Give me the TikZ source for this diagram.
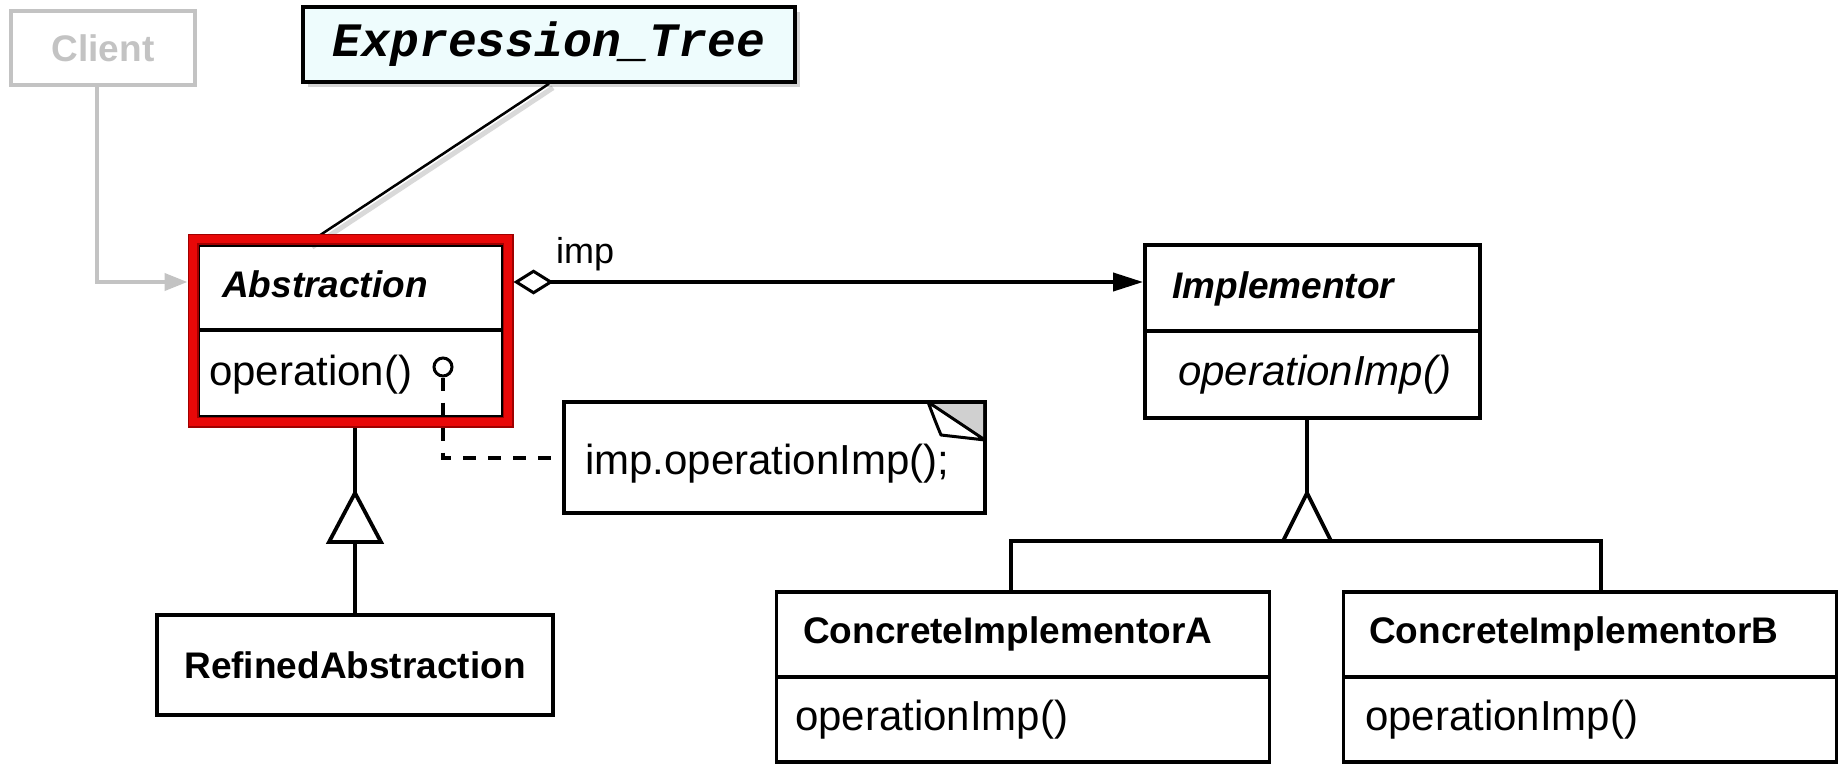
\documentclass[tikz,border=0pt]{standalone}
\usepackage{fontspec}
\setmainfont{Liberation Sans}
\newfontfamily\codefont{Liberation Mono}
\usetikzlibrary{arrows.meta,shadows}

\definecolor{clientgray}{RGB}{195,195,195}
\definecolor{notecyan}{RGB}{238,252,253}
\definecolor{framered}{RGB}{232,8,8}
\definecolor{framedark}{RGB}{160,0,0}
\definecolor{foldgray}{RGB}{208,208,208}

\tikzset{
  umlbox/.style={draw=black, line width=3.8pt, inner sep=0pt, fill=white},
  titletext/.style={font=\fontsize{37}{42}\selectfont\bfseries\itshape, inner sep=0pt, anchor=base west},
  classname/.style={font=\fontsize{37}{42}\selectfont\bfseries, inner sep=0pt},
  optext/.style={font=\fontsize{42}{48}\selectfont, inner sep=0pt, anchor=base west},
  conn/.style={draw=black, line width=3.8pt},
  gentri/.style={draw=black, line width=3.8pt, fill=white, line join=miter},
}

\begin{document}
\begin{tikzpicture}[x=1pt,y=-1pt]
\useasboundingbox (0,0) rectangle (1843,765);

% ---------- Client ----------
\node[draw=clientgray, line width=4pt, minimum width=184pt, minimum height=74pt,
      inner sep=0pt, text=clientgray, classname] (client) at (103,48) {Client};

% ---------- Expression_Tree label ----------
\node[draw=black, line width=3.5pt, fill=notecyan, minimum width=492pt, minimum height=75pt,
      inner sep=0pt, drop shadow={opacity=0.35, shadow xshift=5pt, shadow yshift=-5pt},
      font=\codefont\bfseries\itshape\fontsize{48}{52}\selectfont] (expr) at (549,44.5) {Expression\_Tree};

% ---------- Abstraction ----------
\node[umlbox, minimum width=305pt, minimum height=85pt] (abs-h) at (350.5,287.5) {};
\node[umlbox, minimum width=305pt, minimum height=87pt] (abs-b) at (350.5,373.5) {};
\node[titletext] (abs-t) at (222,297) {Abstraction};
\node[optext] (abs-o) at (209,385) {operation()};

% link from the Expression_Tree label (drawn under the red frame)
\draw[line width=2.5pt,
      preaction={draw=black, opacity=0.15, line width=5pt, transform canvas={shift={(4pt,-4pt)}}}]
  (expr.south) -- ([xshift=-42.5pt]abs-h.north);

% highlight frame
\node[draw=framedark, double=framered, double distance=8pt, line width=1.5pt,
      minimum width=315pt, minimum height=183pt, inner sep=0pt, outer sep=5.5pt] (absframe) at (350.5,330.5) {};

% ---------- Implementor ----------
\node[umlbox, minimum width=335pt, minimum height=86pt] (impl-h) at (1312.5,288) {};
\node[umlbox, minimum width=335pt, minimum height=87pt] (impl-b) at (1312.5,374.5) {};
\node[titletext] (impl-t) at (1172,298) {Implementor};
\node[optext, font=\fontsize{42}{48}\selectfont\itshape] (impl-o) at (1178,385) {operationImp()};

% ---------- Concrete implementors ----------
\node[umlbox, minimum width=493pt, minimum height=85pt] (concA-h) at (1023,634.5) {};
\node[umlbox, minimum width=493pt, minimum height=85pt] (concA-b) at (1023,719.5) {};
\node[titletext, font=\fontsize{37}{42}\selectfont\bfseries] (concA-t) at (803,643) {ConcreteImplementorA};
\node[optext] (concA-o) at (795,730) {operationImp()};

\node[umlbox, minimum width=493pt, minimum height=85pt] (concB-h) at (1590,634.5) {};
\node[umlbox, minimum width=493pt, minimum height=85pt] (concB-b) at (1590,719.5) {};
\node[titletext, font=\fontsize{37}{42}\selectfont\bfseries] (concB-t) at (1369,643) {ConcreteImplementorB};
\node[optext] (concB-o) at (1365,730) {operationImp()};

% ---------- RefinedAbstraction ----------
\node[umlbox, minimum width=396pt, minimum height=100pt, classname] (refined) at (355,665) {RefinedAbstraction};

% ---------- Note ----------
\node[umlbox, minimum width=421pt, minimum height=111pt] (note) at (774.5,457.5) {};
\node[optext] (note-t) at (585,474) {imp.operationImp();};
% dog-ear corner
\fill[foldgray] (930,404) -- (983,404) -- (983,439) -- cycle;
\draw[line width=3pt, fill=white, line join=round]
  (928,402) -- (985,440) -- (941,435) .. controls (936,423) .. (928,402) -- cycle;

% operation() to note
\node[draw=black, circle, line width=3pt, minimum size=18pt, inner sep=0pt, fill=white] (lolli) at (443,367) {};
\draw[line width=4pt, dash pattern=on 13pt off 12pt] (lolli.south) |- ([xshift=-6.5pt]note.west);

% ---------- Client -> Abstraction ----------
\draw[draw=clientgray, line width=4pt, -{Triangle[length=23pt,width=17pt]}]
  ([xshift=-6pt]client.south) |- ([yshift=48.5pt]absframe.west);

% ---------- Association imp ----------
\draw[conn, {Diamond[length=40pt,width=25pt,fill=white,line width=3pt]}-{Triangle[length=30pt,width=18pt]}]
  ([yshift=48.5pt]absframe.east) -- ([yshift=6pt]impl-h.west);
\node[font=\fontsize{36}{40}\selectfont, anchor=base west, inner sep=0pt] (implabel) at (556,263) {imp};

% ---------- Generalization: RefinedAbstraction -> Abstraction ----------
\coordinate (g1a) at (355,493);
\coordinate (g1b) at (355,542);
\draw[conn] (refined.north) -- (g1b);
\draw[conn] (g1a) -- (refined.north |- absframe.south);
\draw[gentri] (g1a) -- ++(26,49) -- ++(-52,0) -- cycle;

% ---------- Generalization: concrete implementors -> Implementor ----------
\coordinate (g2a) at (1307,493);
\coordinate (g2b) at (1307,541);
\draw[conn] ([xshift=-5.5pt]impl-b.south) -- (g2a);
\draw[conn] ([xshift=-12pt]concA-h.north) |- (g2b) -| ([xshift=11pt]concB-h.north);
\draw[gentri] (g2a) -- ++(24,48) -- ++(-48,0) -- cycle;

\end{tikzpicture}
\end{document}
